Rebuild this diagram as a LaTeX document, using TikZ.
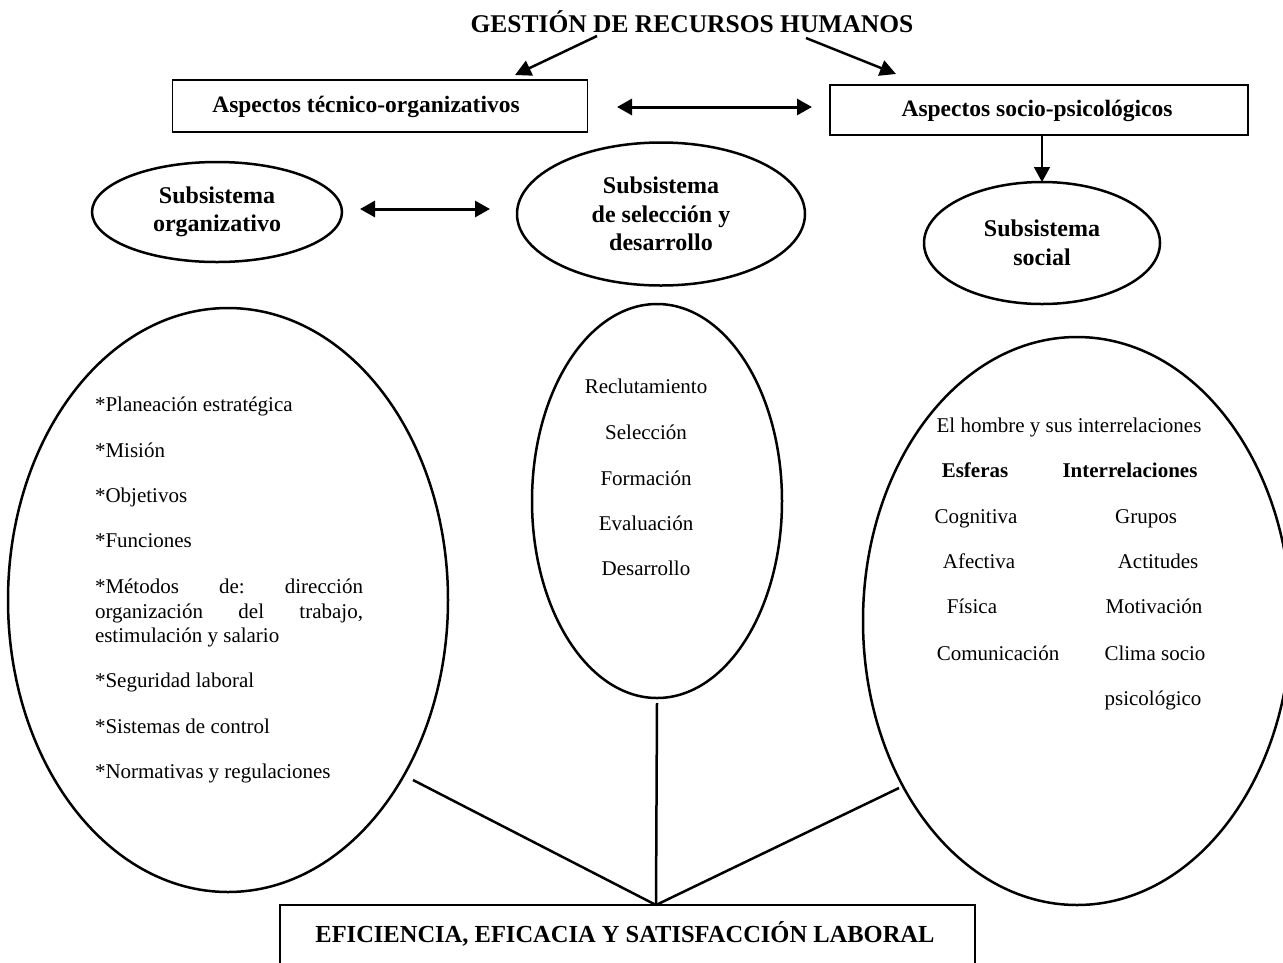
\documentclass[tikz,border=0pt]{standalone}
\usepackage{fontspec}
\setmainfont{Liberation Serif}
\usetikzlibrary{shapes.geometric,arrows.meta}
\begin{document}
\begin{tikzpicture}[x=1pt,y=-1pt,
  every node/.style={inner sep=0pt, outer sep=0pt},
  reg/.style={font=\fontsize{21}{24}\selectfont, text height=14pt, text depth=5pt},
  bld/.style={font=\fontsize{23.5}{29}\selectfont\bfseries, align=center},
  ttl/.style={font=\fontsize{25.5}{30}\selectfont\bfseries},
  frame/.style={draw, line width=1.5pt, rectangle},
  oval/.style={draw, ellipse, line width=2.5pt, align=center,
    font=\fontsize{24}{28.5}\selectfont\bfseries},
  bigoval/.style={draw, ellipse, line width=2.5pt},
  arr/.style={line width=2.5pt, -{Triangle[length=16pt,width=16pt]}},
  thinarr/.style={line width=1.5pt, -{Triangle[length=15pt,width=16pt]}},
  darr/.style={line width=3pt, {Triangle[length=15pt,width=16pt]}-{Triangle[length=15pt,width=16pt]}},
  link/.style={line width=2.5pt}]

\useasboundingbox (0,0) rectangle (1283,962);
\fill[white] (0,0) rectangle (1283,962);
\clip (0,0) rectangle (1283,962);

% heading
\node[ttl] (title) at (692,22) {GESTIÓN DE RECURSOS HUMANOS};
\coordinate (tL) at (597,36);
\coordinate (tR) at (806,38);

% the two groups of aspects
\node[frame, minimum width=415pt, minimum height=52pt] (tec) at (380,106) {};
\node[bld] (tectxt) at (366,107) {Aspectos técnico-organizativos};
\node[frame, minimum width=418pt, minimum height=50pt] (soc) at (1039,110) {};
\node[bld] (soctxt) at (1037,111) {Aspectos socio-psicológicos};

\draw[arr] (tL) -- (515,75);
\draw[arr] (tR) -- (896,74);
\draw[darr] (617,107) -- (812,107);

% subsystems
\node[oval, minimum width=250pt, minimum height=100pt] (sorg) at (217,212)
  {Subsistema\\organizativo};
\node[oval, minimum width=288pt, minimum height=143pt] (ssel) at (661,214)
  {Subsistema\\de selección y\\desarrollo};
\node[oval, minimum width=236pt, minimum height=122pt] (ssoc) at (1042,243)
  {Subsistema\\social};

\draw[thinarr] (soc.south -| ssoc.north) -- (ssoc.north);
\draw[darr] (360,209) -- (490,209);

% contents of each subsystem
\node[bigoval, minimum width=440pt, minimum height=584pt] (lorg) at (228,600) {};
\node[bigoval, minimum width=250pt, minimum height=394pt] (lsel) at (657,501) {};
\node[bigoval, minimum width=428pt, minimum height=568pt] (lsoc) at (1077,621) {};

\begin{scope}[every node/.append style={reg, anchor=west}]
  \node (o1) at (95,407) {*Planeación estratégica};
  \node (o2) at (95,453) {*Misión};
  \node (o3) at (95,498) {*Objetivos};
  \node (o4) at (95,543) {*Funciones};
  \node (o5) at (95,589) {\hbox to 268pt{*Métodos\hfill de:\hfill dirección}};
  \node (o6) at (95,614) {\hbox to 268pt{organización\hfill del\hfill trabajo,}};
  \node (o7) at (95,638) {estimulación y salario};
  \node (o8) at (95,683) {*Seguridad laboral};
  \node (o9) at (95,729) {*Sistemas de control};
  \node (o10) at (95,774) {*Normativas y regulaciones};
\end{scope}

\begin{scope}[every node/.append style={reg}]
  \node (s1) at (646,389) {Reclutamiento};
  \node (s2) at (646,435) {Selección};
  \node (s3) at (646,481) {Formación};
  \node (s4) at (646,526) {Evaluación};
  \node (s5) at (646,571) {Desarrollo};

  \node (h0) at (1069,428) {El hombre y sus interrelaciones};
  \node[font=\fontsize{21}{24}\selectfont\bfseries] (e0) at (975,473) {Esferas};
  \node[font=\fontsize{21}{24}\selectfont\bfseries] (i0) at (1130,473) {Interrelaciones};
  \node (e1) at (976,519) {Cognitiva};
  \node (e2) at (979,564) {Afectiva};
  \node (e3) at (972,609) {Física};
  \node (e4) at (998,656) {Comunicación};
  \node (i1) at (1146,519) {Grupos};
  \node (i2) at (1158,564) {Actitudes};
  \node (i3) at (1154,609) {Motivación};
  \node (i4) at (1155,656) {Clima socio};
  \node (i5) at (1153,701) {psicológico};
\end{scope}

% result
\node[frame, minimum width=695pt, minimum height=90pt] (res) at (627.5,950) {};
\node[ttl, font=\fontsize{24.5}{28}\selectfont\bfseries] (restxt) at (625,934)
  {EFICIENCIA, EFICACIA Y SATISFACCIÓN LABORAL};

\coordinate (join) at (656,905);
\coordinate (fromorg) at (413,780);
\coordinate (fromsoc) at (899,788);
\draw[link] (fromorg) -- (join);
\draw[link] (lsel.south) ++(0,5) -- (join);
\draw[link] (fromsoc) -- (join);
\end{tikzpicture}
\end{document}
